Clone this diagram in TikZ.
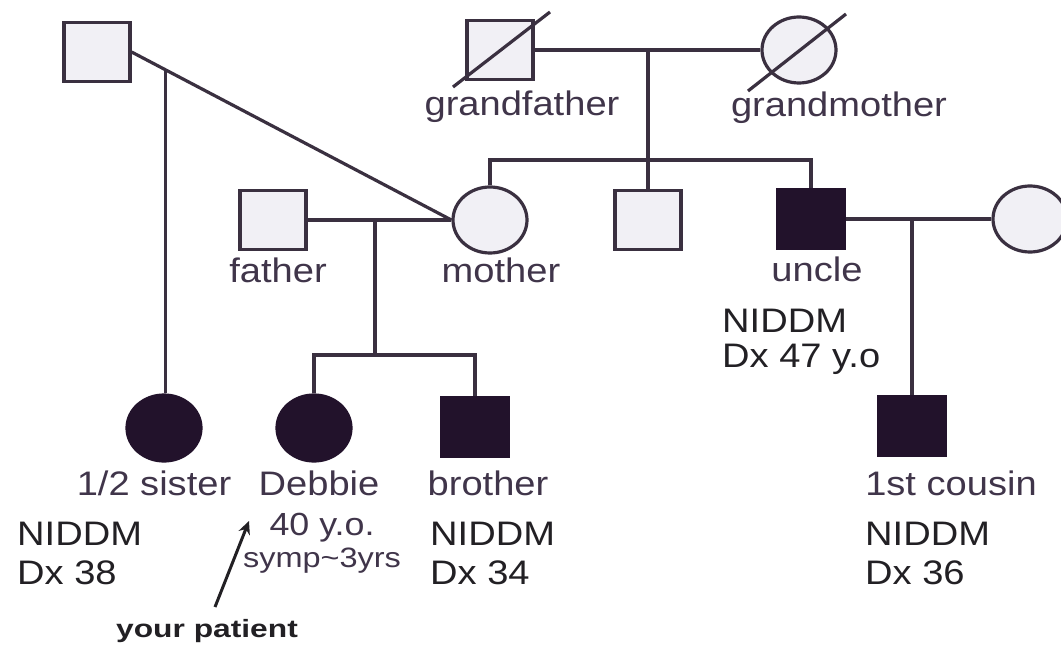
\documentclass[tikz,border=0pt]{standalone}
\usepackage{fontspec}
\setmainfont{Liberation Sans}
\usepackage{graphicx}
\usetikzlibrary{shapes.geometric,arrows.meta,calc}

\definecolor{ink}{HTML}{3A3040}
\definecolor{paper}{HTML}{F1F0F5}
\definecolor{affected}{HTML}{22122B}
\definecolor{namecol}{HTML}{40354A}
\definecolor{infocol}{HTML}{222024}

% widen text horizontally
\newcommand{\wide}[2][1.12]{\scalebox{#1}[1]{#2}}

\begin{document}
\begin{tikzpicture}[x=1pt,y=-1pt,
  person/.style={draw=ink, line width=3.2pt, fill=paper, inner sep=0pt},
  male/.style={person, rectangle, minimum width=66pt, minimum height=59pt},
  female/.style={person, ellipse, minimum width=74pt, minimum height=66pt},
  affect/.style={fill=affected, draw=affected},
  link/.style={draw=ink, line width=3.2pt},
  who/.style={font=\fontsize{34}{40}\selectfont, text=namecol, anchor=base, inner sep=0pt},
  dx/.style={font=\fontsize{34}{40}\selectfont, text=infocol, anchor=base west, inner sep=0pt}]

\useasboundingbox[fill=white] (0,0) rectangle (1061,647);

% ---- people ----
\node[male] (hf) at (97,52) {};
\node[male] (gf) at (500,50) {};
\node[female] (gm) at (799,50) {};
\node[male] (fa) at (273,220) {};
\node[female] (mo) at (490,220) {};
\node[male] (mid) at (648,220) {};
\node[male,affect] (un) at (811,219) {};
\node[female] (aunt) at (1030,219) {};
\node[female,affect] (hs) at (164,428) {};
\node[female,affect] (deb) at (314,428) {};
\node[male,affect] (bro) at (475,427) {};
\node[male,affect] (cou) at (912,426) {};

% deceased marks
\draw[link] ($(gf)+(-47,37)$) -- ($(gf)+(50,-38)$);
\draw[link] ($(gm)+(-51,41)$) -- ($(gm)+(47,-36)$);

% ---- relationship lines ----
% grandparents and their children
\draw[link] (gf.east) -- (gm.west);
\coordinate (gpm) at (648,50);
\coordinate (gsib) at (648,160);
\draw[link] (gpm) -- (gsib);
\draw[link] (mo.north) |- (gsib) -| (un.north);
\draw[link] (gsib) -- (mid.north);

% mother's first partner and the half-sister
\draw[link] (hf.east) -- (mo.west);
\path (hf.east) -- (mo.west) coordinate[pos=0.105] (hsm);
\draw[link] (hsm) -- (hsm |- hs.north);

% father and mother with their children
\draw[link] (fa.east) -- (mo.west);
\coordinate (fam) at (375,220);
\coordinate (fsib) at (375,355);
\draw[link] (fam) -- (fsib);
\draw[link] (deb.north) |- (fsib) -| (bro.north);

% uncle, his partner and their son
\draw[link] (un.east) -- (aunt.west);
\coordinate (um) at (912,219);
\draw[link] (um) -- (cou.north);

% ---- labels ----
\node[who] (lgf) at (522,116) {\wide{grandfather}};
\node[who] (lgm) at (839,117) {\wide{grandmother}};
\node[who] (lfa) at (278,283) {\wide{father}};
\node[who] (lmo) at (501,283) {\wide{mother}};
\node[who] (lun) at (817,282) {\wide{uncle}};
\node[dx] (un1) at (722,332) {\wide{NIDDM}};
\node[dx] (un2) at (722,367) {\wide{Dx 47 y.o}};

\node[who] (lhs) at (154,495) {\wide{1/2 sister}};
\node[dx] (hs1) at (17,545) {\wide{NIDDM}};
\node[dx] (hs2) at (17,584) {\wide{Dx 38}};

\node[who] (ldeb) at (319,495) {\wide{Debbie}};
\node[font=\fontsize{32}{38}\selectfont, text=namecol, anchor=base, inner sep=0pt] (age) at (322,535) {\wide{40 y.o.}};
\node[font=\fontsize{28}{32}\selectfont, text=namecol, anchor=base, inner sep=0pt] (symp) at (322,567) {\wide[1.16]{symp\textasciitilde 3yrs}};

\node[who] (lbro) at (488,495) {\wide{brother}};
\node[dx] (bro1) at (430,545) {\wide{NIDDM}};
\node[dx] (bro2) at (430,584) {\wide{Dx 34}};

\node[who] (lcou) at (951,495) {\wide{1st cousin}};
\node[dx] (cou1) at (865,545) {\wide{NIDDM}};
\node[dx] (cou2) at (865,584) {\wide{Dx 36}};

% pointer to the patient
\node[font=\bfseries\fontsize{25}{30}\selectfont, text=infocol, anchor=base, inner sep=0pt] (yp) at (207,637) {\wide[1.27]{your patient}};
\coordinate (ptail) at (215,607);
\coordinate (ptip) at (249,521);
\draw[draw=infocol, line width=3pt, -{Stealth[length=13pt,width=12pt]}] (ptail) -- (ptip);

\end{tikzpicture}
\end{document}
